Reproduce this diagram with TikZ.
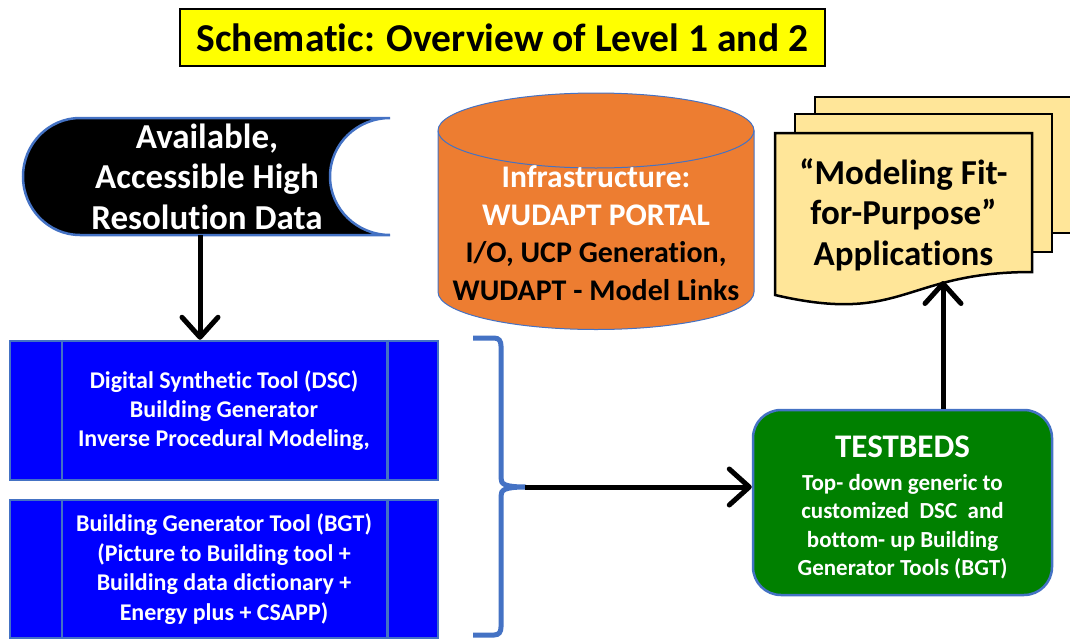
\documentclass[tikz,border=0pt]{standalone}
\usepackage{fontspec}
\setmainfont{Carlito}[Ligatures=NoCommon]
\usetikzlibrary{arrows.meta}
\definecolor{edgeblue}{HTML}{4472C4}
\definecolor{orangefill}{HTML}{ED7D31}
\definecolor{docfill}{HTML}{FFE699}
\definecolor{greenfill}{HTML}{008000}
\definecolor{titleyellow}{HTML}{FFFF00}
\definecolor{boxblue}{HTML}{0000FF}
\begin{document}
\begin{tikzpicture}[x=1pt,y=-1pt,
  txt/.style={align=center, inner sep=0pt},
  arr/.style={line width=5pt, -{Straight Barb[length=20pt,width=36pt,round]}},
  procbox/.style={draw=edgeblue, line width=2.5pt, fill=boxblue, minimum width=428pt, inner sep=0pt},
  edgeline/.style={draw=edgeblue, line width=2.5pt}]
\useasboundingbox (0,0) rectangle (1070,640);

% title
\node[draw=black, line width=2pt, fill=titleyellow, minimum width=645pt, minimum height=57pt, txt,
  font=\bfseries\fontsize{39.5}{44}\selectfont]
  (title) at (502.5,37.5) {Schematic: Overview of Level 1 and 2};

% data shape (stored data)
\path[fill=black, edgeline]
  (80,118) arc[start angle=270, end angle=90, x radius=57, y radius=58.5]
  -- (390,235) arc[start angle=90, end angle=270, x radius=60, y radius=58.5] -- cycle;
\node[txt, text=white, minimum width=368pt, minimum height=117pt,
  font=\bfseries\fontsize{35}{40.5}\selectfont] (data) at (207,176.5)
  {Available,\\Accessible High\\Resolution Data};

% cylinder
\path[fill=orangefill, draw=edgeblue, line width=1pt]
  (438,130.5) -- (438,292) arc[start angle=180, end angle=0, x radius=158, y radius=37.5]
  -- (754,130.5) arc[start angle=0, end angle=-180, x radius=158, y radius=37.5] -- cycle;
\draw[edgeblue, line width=1pt] (438,130.5) arc[start angle=180, end angle=0, x radius=158, y radius=37.5];
\node[txt, font=\bfseries\fontsize{31.5}{37.5}\selectfont] (portal) at (596,233)
  {\textcolor{white}{Infrastructure:}\\\textcolor{white}{WUDAPT PORTAL}\\{\fontsize{30}{37.5}\selectfont I/O, UCP Generation,}\\{\fontsize{30}{37.5}\selectfont WUDAPT - Model Links}};

% multi-document
\path[fill=docfill, draw=black, line width=2.5pt] (815,97) rectangle (1072,233);
\path[fill=docfill, draw=black, line width=2.5pt] (795,114) rectangle (1052,252);
\path[fill=docfill, draw=black, line width=2.5pt]
  (775,133) -- (1032,133) -- (1032,272) .. controls (903.5,272) and (903.5,325) .. (775,295) -- cycle;
\node[txt, font=\bfseries\fontsize{35}{40.5}\selectfont] (apps) at (903.5,214.5)
  {“Modeling Fit-\\for-Purpose”\\Applications};
\coordinate (docbot) at (943,281);

% blue process boxes
\node[procbox, minimum height=139pt] (dsc) at (224,410.5) {};
\node[procbox, minimum height=138pt] (bgt) at (224,569) {};
\foreach \b in {dsc,bgt}{
  \draw[edgeblue, line width=2.5pt] ([xshift=53pt]\b.north west) -- ([xshift=53pt]\b.south west);
  \draw[edgeblue, line width=2.5pt] ([xshift=-52pt]\b.north east) -- ([xshift=-52pt]\b.south east);
}
\node[txt, text=white, font=\bfseries\fontsize{24}{29}\selectfont] (dsctext) at (dsc.center)
  {Digital Synthetic Tool (DSC)\\Building Generator\\Inverse Procedural Modeling,};
\node[txt, text=white, font=\bfseries\fontsize{24}{29.7}\selectfont] (bgttext) at (bgt.center)
  {Building Generator Tool (BGT)\\(Picture to Building tool +\\Building data dictionary +\\Energy plus + CSAPP)};

% brace
\draw[edgeblue, line width=5pt]
  (473,338) -- (494,338) .. controls (499,338) and (501,341) .. (501,346) -- (501,478)
  .. controls (501,484) and (504,487) .. (526,487)
  .. controls (504,487) and (501,490) .. (501,496) -- (501,627)
  .. controls (501,632) and (499,635) .. (494,635) -- (473,635);
\coordinate (bracetip) at (525,487);

% testbeds
\node[draw=edgeblue, line width=2.5pt, fill=greenfill, rounded corners=28pt,
  minimum width=299pt, minimum height=185pt] (tb) at (902.5,502.5) {};
\node[txt, text=white, font=\bfseries\fontsize{33}{38}\selectfont] (tbhead) at (902.5,447)
  {TESTBEDS};
\node[txt, text=white, font=\bfseries\fontsize{23}{28.5}\selectfont] (tbbody) at (902.5,526.5)
  {Top- down generic to\\customized~ DSC~ and\\bottom- up Building\\Generator Tools (BGT)};

% connectors
\draw[arr] ([xshift=-7pt]data.south) -- ([xshift=-7pt]data.south |- dsc.north);
\draw[arr] (bracetip) -- (bracetip -| tb.west);
\draw[arr] (tb.north -| docbot) -- (docbot);
\end{tikzpicture}
\end{document}
